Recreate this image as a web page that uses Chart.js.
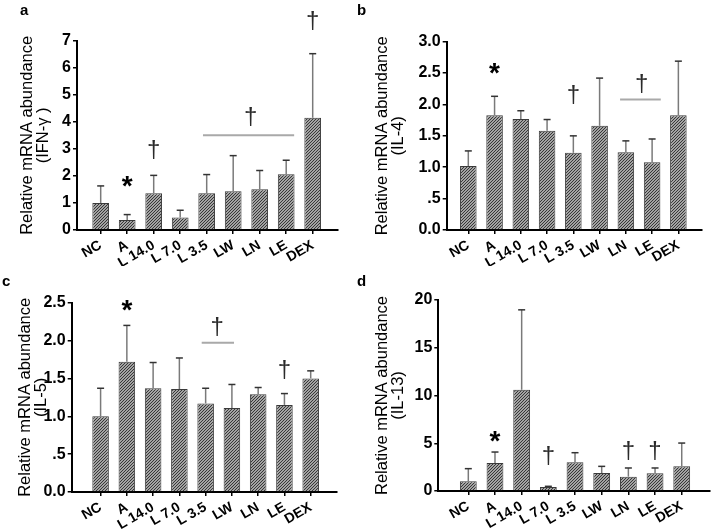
<!DOCTYPE html>
<html>
<head>
<meta charset="utf-8">
<script src="https://cdn.jsdelivr.net/npm/chart.js@4.4.1/dist/chart.umd.min.js"></script>
<style>
  body { margin: 0; background: #fff; width: 711px; height: 532px; position: relative; overflow: hidden;
         font-family: "Liberation Sans", Arial, sans-serif; }
  canvas { position: absolute; }
  .tag { position: absolute; font-weight: bold; font-size: 15px; line-height: 15px; color: #000; }
</style>
</head>
<body>
<canvas id="chartA" width="355" height="266" style="left:0;top:0;width:355px;height:266px"></canvas>
<canvas id="chartB" width="356" height="266" style="left:355px;top:0;width:356px;height:266px"></canvas>
<canvas id="chartC" width="355" height="266" style="left:0;top:266px;width:355px;height:266px"></canvas>
<canvas id="chartD" width="356" height="266" style="left:355px;top:266px;width:356px;height:266px"></canvas>
<div class="tag" style="left:20px;top:2px">a</div>
<div class="tag" style="left:357px;top:2px">b</div>
<div class="tag" style="left:2px;top:273px">c</div>
<div class="tag" style="left:357px;top:273px">d</div>
<script>
const categories = ['NC', 'A', 'L 14.0', 'L 7.0', 'L 3.5', 'LW', 'LN', 'LE', 'DEX'];

// IFN-γ
const ifnMean = [1.00, 0.37, 1.36, 0.46, 1.36, 1.43, 1.51, 2.06, 4.15];
const ifnErr  = [0.63, 0.20, 0.66, 0.27, 0.69, 1.32, 0.69, 0.52, 2.37];
const ifnTicks = [0, 1, 2, 3, 4, 5, 6, 7];
const ifnTickLabels = ['0', '1', '2', '3', '4', '5', '6', '7'];
const ifnStars = [[1, 1.79]];
const ifnDaggers = [[2, 2.96], [5.66, 4.2], [8, 7.75]];
const ifnLines = [[3.86, 7.3, 3.5]];

// IL-4
const il4Mean = [1.02, 1.83, 1.77, 1.58, 1.23, 1.66, 1.24, 1.08, 1.83];
const il4Err  = [0.24, 0.30, 0.13, 0.18, 0.27, 0.76, 0.18, 0.37, 0.86];
const il4Ticks = [0, 0.5, 1, 1.5, 2, 2.5, 3];
const il4TickLabels = ['0.0', '.5', '1.0', '1.5', '2.0', '2.5', '3.0'];
const il4Stars = [[1, 2.58]];
const il4Daggers = [[4, 2.16], [6.6, 2.34]];
const il4Lines = [[5.78, 7.33, 2.08]];

// IL-5
const il5Mean = [1.00, 1.72, 1.37, 1.36, 1.17, 1.11, 1.29, 1.15, 1.50];
const il5Err  = [0.37, 0.48, 0.34, 0.41, 0.20, 0.31, 0.09, 0.15, 0.10];
const il5Ticks = [0, 0.5, 1, 1.5, 2, 2.5];
const il5TickLabels = ['0.0', '.5', '1.0', '1.5', '2.0', '2.5'];
const il5Stars = [[1, 2.46]];
const il5Daggers = [[4.44, 2.18], [7, 1.62]];
const il5Lines = [[3.85, 5.08, 1.97]];

// IL-13
const il13Mean = [1.01, 2.93, 10.6, 0.42, 3.00, 1.88, 1.50, 1.85, 2.58];
const il13Err  = [1.33, 1.15, 8.37, 0.07, 1.01, 0.70, 0.91, 0.56, 2.44];
const il13Ticks = [0, 5, 10, 15, 20];
const il13TickLabels = ['0', '5', '10', '15', '20'];
const il13Stars = [[1, 5.69]];
const il13Daggers = [[3, 3.7], [6, 4.22], [7, 4.22]];
const il13Lines = [];

const FONT = '"Liberation Sans", Arial, sans-serif';

function hatch() {
  const c = document.createElement('canvas');
  c.width = 3; c.height = 3;
  const g = c.getContext('2d');
  g.fillStyle = '#d2d2d2';
  g.fillRect(0, 0, 3, 3);
  g.strokeStyle = '#303030';
  g.lineWidth = 1.1;
  g.beginPath();
  g.moveTo(0, 3); g.lineTo(3, 0);
  g.moveTo(-1, 1); g.lineTo(1, -1);
  g.moveTo(2, 4); g.lineTo(4, 2);
  g.stroke();
  return g.createPattern(c, 'repeat');
}

function glyph(ctx, ch, font, color, px, py) {
  ctx.font = font;
  ctx.fillStyle = color;
  ctx.textAlign = 'center';
  ctx.textBaseline = 'alphabetic';
  const m = ctx.measureText(ch);
  ctx.fillText(ch, px, py + (m.actualBoundingBoxAscent - m.actualBoundingBoxDescent) / 2);
}

function panel(id, mean, err, yTicks, yLabels, gene, stars, daggers, lines, box) {
  const marks = {
    id: 'marks',
    afterDatasetsDraw(chart) {
      const {ctx, scales: {x, y}} = chart;
      const bars = chart.getDatasetMeta(0).data;
      ctx.save();
      // upper error bars
      bars.forEach((bar, i) => {
        const top = y.getPixelForValue(mean[i] + err[i]);
        ctx.lineWidth = 1.5;
        ctx.strokeStyle = '#7a7a7a';
        ctx.beginPath(); ctx.moveTo(bar.x, bar.y); ctx.lineTo(bar.x, top); ctx.stroke();
        ctx.strokeStyle = '#333';
        ctx.beginPath(); ctx.moveTo(bar.x - 3.5, top); ctx.lineTo(bar.x + 3.5, top); ctx.stroke();
      });
      // significance lines
      ctx.strokeStyle = '#a9a9a9';
      ctx.lineWidth = 2;
      lines.forEach(([a, b, v]) => {
        const py = y.getPixelForValue(v);
        ctx.beginPath(); ctx.moveTo(x.getPixelForValue(a), py); ctx.lineTo(x.getPixelForValue(b), py); ctx.stroke();
      });
      stars.forEach(([i, v]) => glyph(ctx, '*', 'bold 28px ' + FONT, '#000', x.getPixelForValue(i), y.getPixelForValue(v)));
      daggers.forEach(([i, v]) => glyph(ctx, '†', '24px ' + FONT, '#2a2a2a', x.getPixelForValue(i), y.getPixelForValue(v)));
      ctx.restore();
    }
  };

  const axisGrid = {drawOnChartArea: false, drawTicks: true, tickLength: 4, color: '#000', lineWidth: 1.5, offset: false};

  new Chart(document.getElementById(id), {
    type: 'bar',
    data: {
      datasets: [{
        data: mean.map((v, i) => ({x: i, y: v})),
        backgroundColor: hatch(),
        borderColor: '#3a3a3a',
        borderWidth: 1,
        barPercentage: 0.7,
        categoryPercentage: 0.9
      }]
    },
    options: {
      responsive: false,
      animation: false,
      events: [],
      layout: {padding: {top: box.top, right: box.right, left: 0, bottom: 0}},
      plugins: {legend: {display: false}, tooltip: {enabled: false}},
      scales: {
        x: {
          type: 'linear',
          min: box.xmin,
          max: box.xmax,
          offset: false,
          afterBuildTicks: s => { s.ticks = categories.map((c, i) => ({value: i})); },
          afterFit: s => { s.height = box.xh; },
          ticks: {
            autoSkip: false, minRotation: 30, maxRotation: 30, padding: 3,
            color: '#000', font: {family: FONT, size: 14, weight: 'bold'},
            callback: v => categories[v]
          },
          grid: axisGrid,
          border: {color: '#000', width: 2}
        },
        y: {
          min: 0,
          max: yTicks[yTicks.length - 1],
          afterBuildTicks: s => { s.ticks = yTicks.map(v => ({value: v})); },
          afterFit: s => { s.width = box.yw; },
          ticks: {
            padding: 2, color: '#000', font: {family: FONT, size: 16, weight: 'bold'},
            callback: (v, i) => yLabels[i]
          },
          grid: axisGrid,
          border: {color: '#000', width: 2},
          title: {
            display: true,
            text: ['Relative mRNA abundance', gene],
            color: '#000',
            font: {family: FONT, size: 16.5, lineHeight: 1},
            padding: {top: box.tpad, bottom: 0}
          }
        }
      }
    },
    plugins: [marks]
  });
}

panel('chartA', ifnMean, ifnErr, ifnTicks, ifnTickLabels, '(IFN-γ )', ifnStars, ifnDaggers, ifnLines,
      {yw: 77, xh: 36, top: 40.7, right: 17, xmin: -0.894, xmax: 8.955, tpad: 18.75});
panel('chartB', il4Mean, il4Err, il4Ticks, il4TickLabels, '(IL-4)', il4Stars, il4Daggers, il4Lines,
      {yw: 91.7, xh: 36, top: 41.7, right: 9, xmin: -0.823, xmax: 8.9, tpad: 18.75});
panel('chartC', il5Mean, il5Err, il5Ticks, il5TickLabels, '(IL-5)', il5Stars, il5Daggers, il5Lines,
      {yw: 71.7, xh: 40, top: 36.7, right: 18.3, xmin: -1.1, xmax: 8.99, tpad: 17});
panel('chartD', il13Mean, il13Err, il13Ticks, il13TickLabels, '(IL-13)', il13Stars, il13Daggers, il13Lines,
      {yw: 83.3, xh: 41, top: 34, right: 1, xmin: -1.125, xmax: 9.06, tpad: 18.75});
</script>
</body>
</html>
